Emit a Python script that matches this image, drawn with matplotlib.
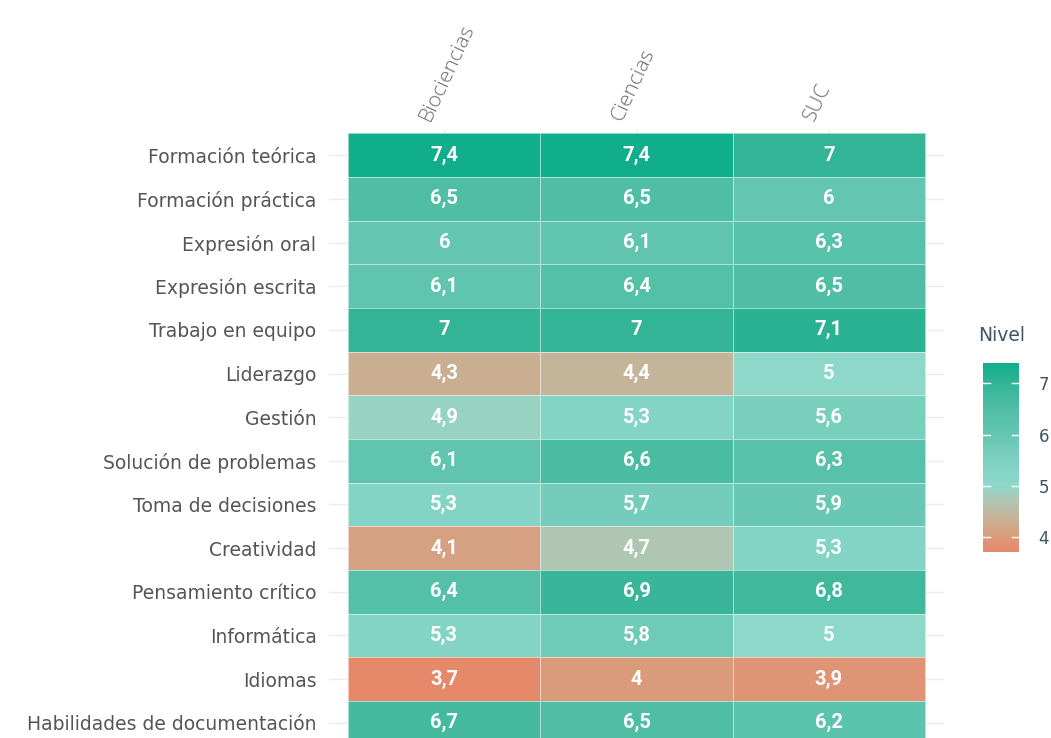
import matplotlib
matplotlib.use("Agg")
import os
import matplotlib.pyplot as plt
import numpy as np
from matplotlib.colors import LinearSegmentedColormap, Normalize
from matplotlib.cm import ScalarMappable
from matplotlib.font_manager import FontProperties

categories = ["Formación teórica", "Formación práctica", "Expresión oral", "Expresión escrita",
              "Trabajo en equipo", "Liderazgo", "Gestión", "Solución de problemas",
              "Toma de decisiones", "Creatividad", "Pensamiento crítico", "Informática",
              "Idiomas", "Habilidades de documentación"]
groups = ["Biociencias", "Ciencias", "SUC"]
biociencias = [7.4, 6.5, 6.0, 6.1, 7.0, 4.3, 4.9, 6.1, 5.3, 4.1, 6.4, 5.3, 3.7, 6.7]
ciencias = [7.4, 6.5, 6.1, 6.4, 7.0, 4.4, 5.3, 6.6, 5.7, 4.7, 6.9, 5.8, 4.0, 6.5]
suc = [7.0, 6.0, 6.3, 6.5, 7.1, 5.0, 5.6, 6.3, 5.9, 5.3, 6.8, 5.0, 3.9, 6.2]
legend_title = "Nivel"
cbar_ticks = [4, 5, 6, 7]

vmin, vmax = 3.7, 7.4
nodes = [(3.7, "#E6886A"), (4.1, "#D5A282"), (4.4, "#C4B49A"), (4.7, "#AFC7B2"),
         (5.0, "#8DD8CA"), (5.3, "#83D4C4"), (5.7, "#74CDBA"), (6.0, "#64C6B1"),
         (6.5, "#50BEA5"), (7.0, "#34B496"), (7.4, "#10AE8A")]
cmap = LinearSegmentedColormap.from_list(
    "nivel", [((v - vmin) / (vmax - vmin), c) for v, c in nodes])
norm = Normalize(vmin, vmax)

data = np.array([biociencias, ciencias, suc]).T

W, H = 1051, 738
fig = plt.figure(figsize=(W / 100, H / 100), dpi=100)
dv_path = os.path.join(matplotlib.get_data_path(), "fonts", "ttf", "DejaVuSans.ttf")
if os.path.exists(dv_path):
    ylab_fp = FontProperties(fname=dv_path, size=13.5)
    leg_fp = FontProperties(fname=dv_path, size=12)
    title_fp = FontProperties(fname=dv_path, size=13.5)
else:
    ylab_fp = FontProperties(family="DejaVu Sans", size=13.5)
    leg_fp = FontProperties(family="DejaVu Sans", size=12)
    title_fp = FontProperties(family="DejaVu Sans", size=13.5)
text_col = "#555555"

ax = fig.add_axes([329 / W, 1 - 749 / H, (944 - 329) / W, (749 - 129) / H])
ax.set_xlim(-0.6, 2.6)
ax.set_ylim(len(categories) - 0.4, -0.6)
for s in ax.spines.values():
    s.set_visible(False)

# grid
for i in range(len(categories)):
    ax.axhline(i, color="#EBEBEB", lw=1.0, zorder=0)
for j in range(len(groups)):
    ax.axvline(j, color="#EBEBEB", lw=1.0, zorder=0)

ax.pcolormesh(np.arange(len(groups) + 1) - 0.5, np.arange(len(categories) + 1) - 0.5,
              data, cmap=cmap, norm=norm, edgecolor=(1, 1, 1, 0.55), linewidth=0.6, zorder=1)

for i in range(len(categories)):
    for j in range(len(groups)):
        v = data[i, j]
        s = f"{v:g}".replace(".", ",")
        ax.text(j, i, s, ha="center", va="center", color="white", fontsize=14.5,
                fontweight="bold", family=["Liberation Sans Narrow", "Roboto", "DejaVu Sans"],
                zorder=3)

ax.set_yticks(range(len(categories)))
ax.set_yticklabels(categories, color=text_col)
for t in ax.get_yticklabels():
    t.set_fontproperties(ylab_fp)
ax.tick_params(axis="y", length=0, pad=9)
ax.set_xticks([])
for j, g in enumerate(groups):
    ax.text(j - 0.1, -0.8, g, rotation=65, rotation_mode="anchor", ha="left", va="center",
            family=["Open Sans", "DejaVu Sans"], fontsize=15, color="#6a6a6a",
            fontweight=300, fontstyle="normal")

# colorbar
cax = fig.add_axes([983 / W, 1 - 552 / H, 36 / W, (552 - 363) / H])
cb = fig.colorbar(ScalarMappable(norm=norm, cmap=cmap), cax=cax)
cb.outline.set_visible(False)
cb.set_ticks(cbar_ticks)
cax.tick_params(length=0, pad=14, labelcolor="#3D5566")
for t in cax.get_yticklabels():
    t.set_fontproperties(leg_fp)
for v in cbar_ticks:
    cax.plot([0, 0.2], [v, v], color="white", lw=1, zorder=5)
    cax.plot([0.8, 1], [v, v], color="white", lw=1, zorder=5)
fig.text(978 / W, 1 - 335 / H, legend_title, fontproperties=title_fp,
         color="#3D5566", ha="left", va="center")

fig.savefig("out.png", dpi=100, facecolor="white")
